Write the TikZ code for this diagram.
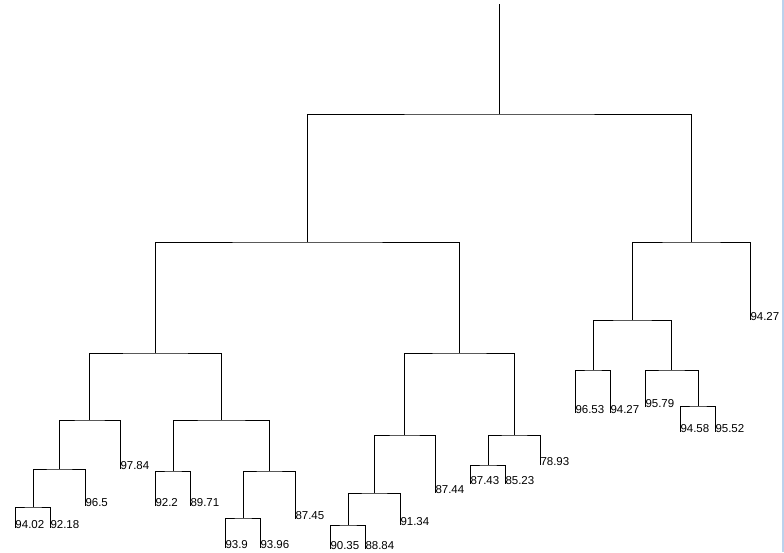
\documentclass[tikz,border=0pt]{standalone}
\usepackage{fontspec}
\setmainfont{Liberation Sans}
\definecolor{winedge}{RGB}{188,210,236}
\begin{document}
\begin{tikzpicture}[x=1pt,y=-1pt,
  link/.style={draw=black,line width=1pt},
  leaf/.style={inner sep=0pt,outer sep=0pt,anchor=base west,
    font=\fontsize{11.5}{12}\selectfont}]
\useasboundingbox (0,0) rectangle (784,552);
\fill[white] (0,0) rectangle (784,552);
\fill[winedge] (782,0) rectangle (784,552);

% merge points (x of the stem, y of the bar joining the two children)
\coordinate (top) at (499.5,4);
\coordinate (R) at (499.5,114);
\coordinate (A) at (307.5,242);
\coordinate (B) at (691.5,242);
\coordinate (C) at (155.5,353);
\coordinate (D) at (459.5,353);
\coordinate (E) at (89.5,420);
\coordinate (F) at (221.5,420);
\coordinate (G) at (59.5,469);
\coordinate (H) at (33.5,507);
\coordinate (I) at (173.5,471);
\coordinate (J) at (269.5,471);
\coordinate (K) at (243.5,518);
\coordinate (L) at (404.5,435);
\coordinate (M) at (514.5,435);
\coordinate (N) at (374.5,493);
\coordinate (O) at (348.5,525);
\coordinate (P) at (488.5,465);
\coordinate (Q) at (632.5,320);
\coordinate (S) at (593.5,370);
\coordinate (T) at (671.5,370);
\coordinate (U) at (698.5,406);

% leaves
\node[leaf] (l1)  at (15.5,528)  {94.02};
\node[leaf] (l2)  at (50.5,528)  {92.18};
\node[leaf] (l3)  at (85.5,506)  {96.5};
\node[leaf] (l4)  at (120.5,469) {97.84};
\node[leaf] (l5)  at (155.5,506) {92.2};
\node[leaf] (l6)  at (190.5,506) {89.71};
\node[leaf] (l7)  at (225.5,548) {93.9};
\node[leaf] (l8)  at (260.5,548) {93.96};
\node[leaf] (l9)  at (295.5,519) {87.45};
\node[leaf] (l10) at (330.5,549) {90.35};
\node[leaf] (l11) at (365.5,549) {88.84};
\node[leaf] (l12) at (400.5,525) {91.34};
\node[leaf] (l13) at (435.5,493) {87.44};
\node[leaf] (l14) at (470.5,484) {87.43};
\node[leaf] (l15) at (505.5,484) {85.23};
\node[leaf] (l16) at (540.5,465) {78.93};
\node[leaf] (l17) at (575.5,413) {96.53};
\node[leaf] (l18) at (610.5,413) {94.27};
\node[leaf] (l19) at (645.5,407) {95.79};
\node[leaf] (l20) at (680.5,432) {94.58};
\node[leaf] (l21) at (715.5,432) {95.52};
\node[leaf] (l22) at (750.5,320) {94.27};

% dendrogram links
\draw[link] (top) -- (R);
\draw[link] (A) |- (R) -| (B);
\draw[link] (C) |- (A) -| (D);
\draw[link] (E) |- (C) -| (F);
\draw[link] (G) |- (E) -| (l4.base west);
\draw[link] (H) |- (G) -| (l3.base west);
\draw[link] (l1.base west) |- (H) -| (l2.base west);
\draw[link] (I) |- (F) -| (J);
\draw[link] (l5.base west) |- (I) -| (l6.base west);
\draw[link] (K) |- (J) -| (l9.base west);
\draw[link] (l7.base west) |- (K) -| (l8.base west);
\draw[link] (L) |- (D) -| (M);
\draw[link] (N) |- (L) -| (l13.base west);
\draw[link] (O) |- (N) -| (l12.base west);
\draw[link] (l10.base west) |- (O) -| (l11.base west);
\draw[link] (P) |- (M) -| (l16.base west);
\draw[link] (l14.base west) |- (P) -| (l15.base west);
\draw[link] (Q) |- (B) -| (l22.base west);
\draw[link] (S) |- (Q) -| (T);
\draw[link] (l17.base west) |- (S) -| (l18.base west);
\draw[link] (l19.base west) |- (T) -| (U);
\draw[link] (l20.base west) |- (U) -| (l21.base west);
\end{tikzpicture}
\end{document}
